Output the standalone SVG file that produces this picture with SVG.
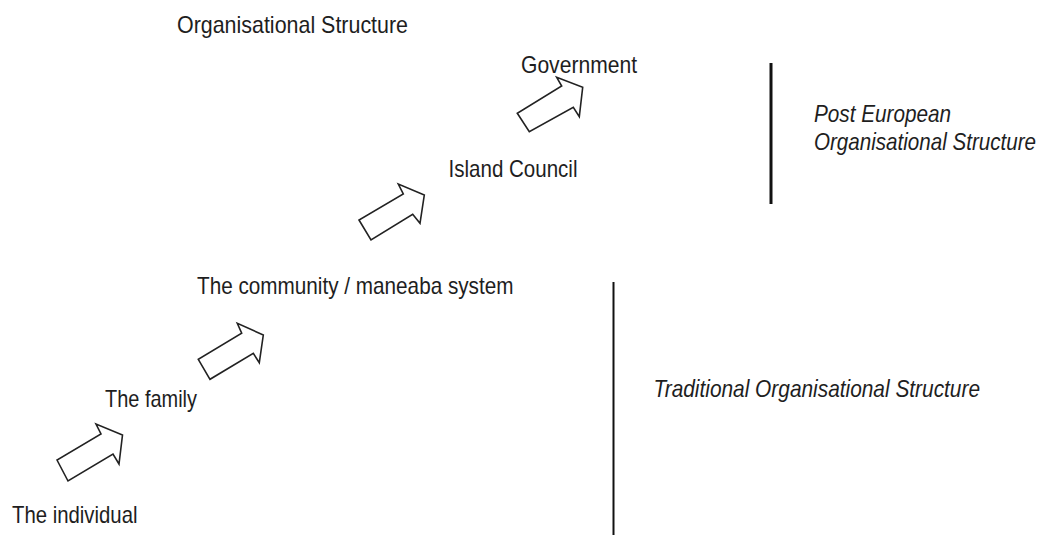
<svg xmlns="http://www.w3.org/2000/svg" width="1045" height="535" viewBox="0 0 1045 535">
<style>
.t{font-family:"Liberation Sans",Arial,sans-serif;font-size:24px;fill:#1e1e1e}
.i{font-style:italic}
.arr{fill:#fff;stroke:#222;stroke-width:1.6;stroke-linejoin:miter}
.div{stroke:#111;fill:none}
</style>
<rect width="1045" height="535" fill="#fff"/>
<g id="title"><text class="t" x="177" y="33" textLength="231" lengthAdjust="spacingAndGlyphs">Organisational Structure</text></g>
<g id="individual"><text class="t" x="12" y="523" textLength="125.5" lengthAdjust="spacingAndGlyphs">The individual</text></g>
<g id="family"><text class="t" x="105" y="407" textLength="92" lengthAdjust="spacingAndGlyphs">The family</text></g>
<g id="community"><text class="t" x="197" y="294" textLength="316.5" lengthAdjust="spacingAndGlyphs">The community / maneaba system</text></g>
<g id="island-council"><text class="t" x="448.5" y="177" textLength="129" lengthAdjust="spacingAndGlyphs">Island Council</text></g>
<g id="government"><text class="t" x="521" y="72.5" textLength="116" lengthAdjust="spacingAndGlyphs">Government</text></g>
<g id="post-european">
<line class="div" x1="771" y1="63" x2="771" y2="204" stroke-width="3"/>
<text class="t i" x="814" y="122" textLength="137" lengthAdjust="spacingAndGlyphs">Post European</text>
<text class="t i" x="814" y="150" textLength="222" lengthAdjust="spacingAndGlyphs">Organisational Structure</text>
</g>
<g id="traditional">
<line class="div" x1="613.5" y1="282" x2="613.5" y2="535" stroke-width="2"/>
<text class="t i" x="653.5" y="397" textLength="326.5" lengthAdjust="spacingAndGlyphs">Traditional Organisational Structure</text>
</g>
<g id="connectors">
<polygon class="arr" points="57,460 68,481 113,454 119,464 122.5,435 96,424 101,434"/>
<polygon class="arr" points="198.3,359.3 210,379.3 253.3,353.3 259.3,362.7 263.3,335 237.3,323.3 241.7,333.3"/>
<polygon class="arr" points="359,220 371,240 412.7,214.3 420,223.3 424.3,195 398.3,184 403.3,194"/>
<polygon class="arr" points="517.3,113.3 529.3,131.7 573.3,107.3 579.3,116.7 582.7,87.3 556.7,77.3 561.7,86"/>
</g>
</svg>
